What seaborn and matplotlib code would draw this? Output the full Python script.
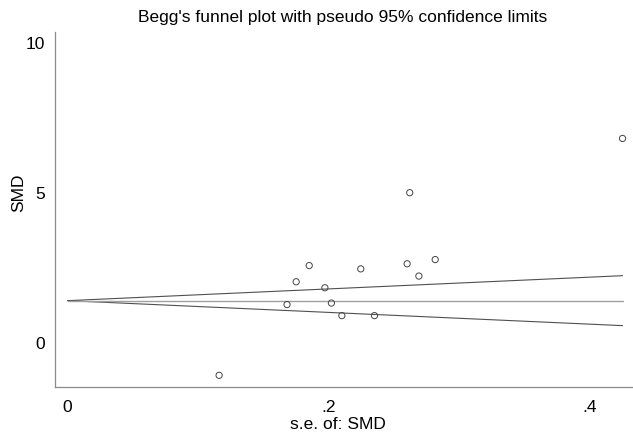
import numpy as np
import pandas as pd
import matplotlib
matplotlib.use("Agg")
import matplotlib.pyplot as plt
import seaborn as sns

# standard error and SMD of each study
se = [0.116, 0.168, 0.175, 0.185, 0.197, 0.202, 0.210, 0.2245,
      0.235, 0.260, 0.262, 0.269, 0.2815, 0.425]
smd = [-1.07, 1.29, 2.05, 2.59, 1.85, 1.34, 0.92, 2.48,
       0.92, 2.65, 5.02, 2.24, 2.79, 6.83]
pooled = 1.42

x_ticks = [0, 0.2, 0.4]
x_tick_labels = ["0", ".2", ".4"]
y_ticks = [0, 5, 10]

sns.set_theme(style="white")
plt.rcParams["font.family"] = ["Liberation Sans", "DejaVu Sans"]
plt.rcParams["text.color"] = "black"
plt.rcParams["axes.labelcolor"] = "black"

df = pd.DataFrame({"se": se, "smd": smd})

fig = plt.figure(figsize=(6.33, 4.37), dpi=100)
ax = fig.add_axes([0.0869, 0.1137, 0.9131, 0.8138])

# pseudo 95% limits and pooled estimate
se_line = np.array([0, max(se)])
ax.plot(se_line, pooled + 1.96 * se_line, color="#505050", lw=0.8)
ax.plot(se_line, pooled - 1.96 * se_line, color="#505050", lw=0.8)
ax.plot(se_line, [pooled, pooled], color="#a0a0a0", lw=1.0)

sns.scatterplot(data=df, x="se", y="smd", ax=ax, marker="o",
                facecolor="none", edgecolor="#444444", linewidth=0.7, s=20,
                zorder=3)

ax.set_xlim(-0.0097, 0.433)
ax.set_ylim(-1.47, 10.39)
ax.set_xticks(x_ticks)
ax.set_xticklabels(x_tick_labels)
ax.set_yticks(y_ticks)

sns.despine(ax=ax)
for side in ["left", "bottom"]:
    ax.spines[side].set_color("#8a8a8a")
    ax.spines[side].set_linewidth(0.9)
ax.tick_params(axis="both", direction="out", length=5, width=0.9,
               color="#8a8a8a", labelsize=12.5, labelcolor="black")
ax.tick_params(axis="x", pad=4)
ax.tick_params(axis="y", pad=2)

ax.set_xlabel("s.e. of: SMD", fontsize=12.5, color="black")
ax.set_ylabel("SMD", fontsize=12.5, color="black")
ax.xaxis.set_label_coords(0.489, -0.083)
ax.yaxis.set_label_coords(-0.05, 0.548)
fig.suptitle("Begg's funnel plot with pseudo 95% confidence limits",
             fontsize=12.5, x=0.541, y=0.978, color="black")

fig.savefig("out.png", dpi=100)
